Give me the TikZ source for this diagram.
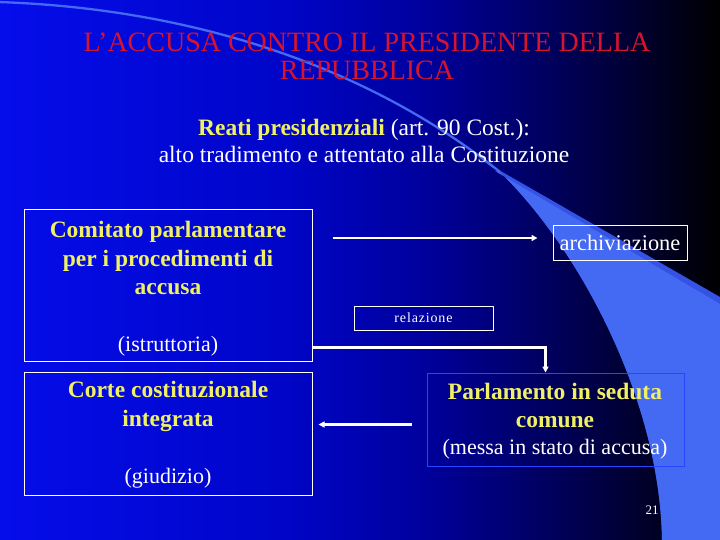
\documentclass[tikz,border=0pt]{standalone}
\usepackage{fontspec}
\setmainfont{Liberation Serif}
\newfontfamily\relfont[LetterSpace=6]{Liberation Serif}
\usetikzlibrary{arrows.meta,calc}
\definecolor{ttlred}{RGB}{215,20,45}
\definecolor{boxyel}{RGB}{240,240,100}
\definecolor{crest}{RGB}{68,105,242}
\definecolor{crestmid}{RGB}{52,82,228}
\definecolor{parlborder}{RGB}{40,70,255}
\pgfdeclarehorizontalshading{bgsh}{100bp}{rgb(0bp)=(0.02,0.05,0.92); rgb(25bp)=(0.02,0.05,0.92); rgb(45bp)=(0,0.02,0.78); rgb(55bp)=(0,0,0.6); rgb(62bp)=(0,0,0.4); rgb(70bp)=(0,0,0.16); rgb(75bp)=(0,0,0); rgb(100bp)=(0,0,0)}
\begin{document}
\begin{tikzpicture}[x=1pt,y=-1pt,
  wbox/.style={draw=white, line width=1pt, inner sep=0pt},
  arr/.style={draw=white, line width=2.2pt, -{Triangle[length=6pt,width=6pt]}},
  ybold/.style={text=boxyel, font=\fontsize{23.5}{28.8}\selectfont\bfseries, align=center, inner sep=0pt},
  wtxt/.style={text=white, font=\fontsize{22}{24}\selectfont, inner sep=0pt},
]
\useasboundingbox (0,0) rectangle (720,540);
\shade[shading=bgsh] (0,0) rectangle (720,540);
% decorative crescent
\fill[crestmid] (478,158) -- (720,297) -- (720,540) -- (662,540) .. controls (660,400) and (580,250) .. (500,172) -- cycle;
\fill[crest] (495,171) -- (720,304) -- (720,540) -- (662,540) .. controls (660,400) and (580,250) .. (500,172) -- cycle;
\draw[crest, line width=2.3pt] (-2,2) .. controls (180,8) and (360,60) .. (500,172);
% title
\node[text=ttlred, font=\fontsize{28}{28}\selectfont, align=center, inner sep=0pt] (title) at (367,56) {L’ACCUSA CONTRO IL PRESIDENTE DELLA\\REPUBBLICA};
\node[text=white, font=\fontsize{23.5}{27}\selectfont, align=center, inner sep=0pt] (sub) at (364,141) {{\bfseries\color{boxyel}Reati presidenziali} (art. 90 Cost.):\\alto tradimento e attentato alla Costituzione};
% boxes
\node[wbox, minimum width=288pt, minimum height=151pt] (comitato) at (168,285.5) {};
\node[wbox, minimum width=288pt, minimum height=123pt] (corte) at (168,433.5) {};
\node[wbox, minimum width=134pt, minimum height=34pt, text=white, font=\fontsize{22.4}{24}\selectfont] (archiv) at (620,243) {archiviazione};
\node[wbox, minimum width=139pt, minimum height=24pt, text=white, font=\fontsize{14}{16}\relfont] (relaz) at (423.5,318) {relazione};
\node[draw=parlborder, line width=1pt, minimum width=257pt, minimum height=93pt] (parl) at (555.5,419.5) {};
% box texts
\node[ybold] (c1) at (168,258) {Comitato parlamentare\\per i procedimenti di\\accusa};
\node[wtxt] (c1b) at (168,346) {(istruttoria)};
\node[ybold] (c2) at (168,406.5) {Corte costituzionale\\integrata};
\node[wtxt] (c2b) at (168,478) {(giudizio)};
\node[ybold] (p1) at (555,405.5) {Parlamento in seduta\\comune};
\node[wtxt] (p2) at (555,449) {(messa in stato di accusa)};
\node[text=white, font=\fontsize{13}{15}\selectfont, inner sep=0pt] (pnum) at (652,510) {21};
% connectors
\draw[arr, shorten <=20pt, shorten >=15pt] ($(comitato.east |- archiv.west)+(0,-5)$) -- ($(archiv.west)+(0,-5)$);
\draw[arr] ($(comitato.south east)+(0,-14)$) -| ($(parl.north west)+(119,0)$);
\draw[arr, shorten <=15pt, shorten >=6pt] ($(parl.north west)+(0,52)$) -- ($(corte.north east)+(0,53)$);
\end{tikzpicture}
\end{document}
